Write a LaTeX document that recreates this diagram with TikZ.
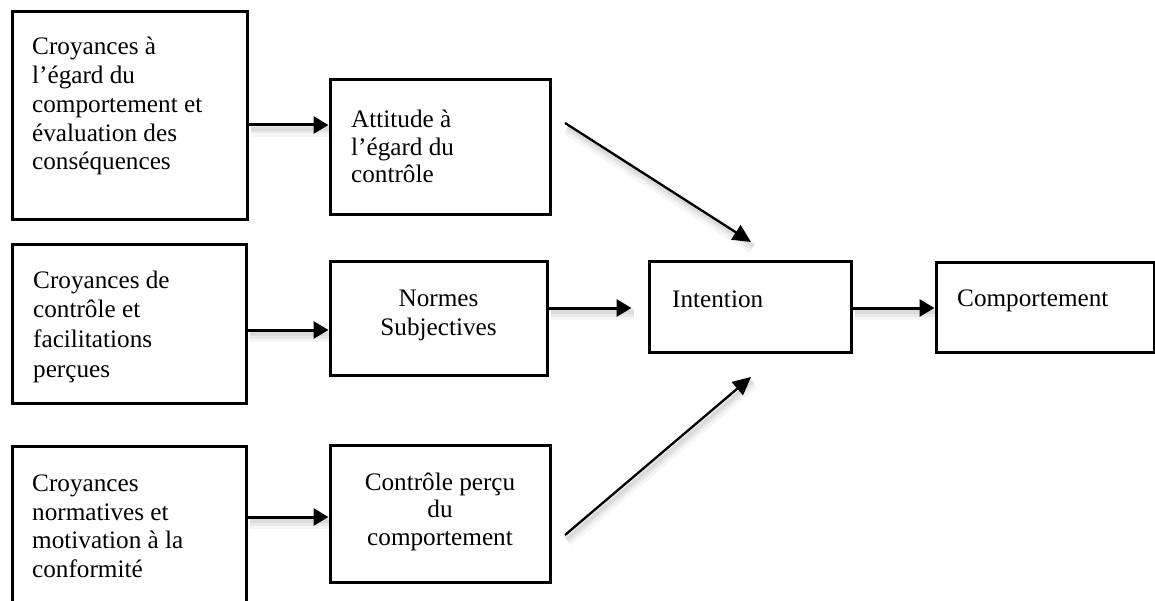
\documentclass[tikz,border=0pt]{standalone}
\usepackage{fontspec}
\setmainfont{Liberation Serif}
\usetikzlibrary{arrows.meta}

\tikzset{
  box/.style={draw=black, line width=3pt, fill=white, inner sep=0pt, rectangle},
  % multi-line labels are placed by the baseline of their last line
  txt/.style={inner sep=0pt, font={\fontsize{25.2}{28.8}\selectfont}, align=left, anchor=base west},
  ctxt/.style={inner sep=0pt, font={\fontsize{25.2}{28.2}\selectfont}, align=center, anchor=base},
  soft/.style={
    preaction={draw=black, opacity=0.035, line width=12pt, -, transform canvas={shift={(2pt,-6pt)}}},
    preaction={draw=black, opacity=0.05, line width=7pt, -, transform canvas={shift={(2pt,-5pt)}}},
    preaction={draw=black, opacity=0.06, line width=3.5pt, -, transform canvas={shift={(2pt,-4pt)}}}},
  harrow/.style={soft, draw=black, line width=3pt, -{Triangle[length=15pt, width=17pt]}},
  darrow/.style={soft, draw=black, line width=2.3pt, -{Triangle[length=18pt, width=17pt]}}
}

\begin{document}
\begin{tikzpicture}[x=1pt, y=-1pt]
\useasboundingbox (0,0) rectangle (1155,601);

% boxes
\node[box, minimum width=235pt, minimum height=208pt] (a1) at (129.5,116) {};
\node[box, minimum width=234pt, minimum height=158pt] (a2) at (129,324) {};
\node[box, minimum width=234pt, minimum height=194pt] (a3) at (129,543) {};
\node[box, minimum width=220pt, minimum height=135pt] (b1) at (440,147.5) {};
\node[box, minimum width=217pt, minimum height=113pt] (b2) at (438.5,318.5) {};
\node[box, minimum width=220pt, minimum height=137pt] (b3) at (440,513.5) {};
\node[box, minimum width=202pt, minimum height=90pt] (int) at (750,307) {};
\node[box, minimum width=218pt, minimum height=89pt] (comp) at (1045,307.5) {};

% labels
\node[txt] (ta1) at (32,170) {Croyances à\\l’égard du\\comportement et\\évaluation des\\conséquences};
\node[txt, font={\fontsize{25.2}{29.6}\selectfont}] (ta2) at (33,377) {Croyances de\\contrôle et\\facilitations\\perçues};
\node[txt, font={\fontsize{25.2}{28.4}\selectfont}] (ta3) at (32,577) {Croyances\\normatives et\\motivation à la\\conformité};
\node[txt, font={\fontsize{25.2}{27.8}\selectfont}] (tb1) at (351,183) {Attitude à\\l’égard du\\contrôle};
\node[ctxt, font={\fontsize{25.2}{29}\selectfont}] (tb2) at (438.5,335) {Normes\\Subjectives};
\node[ctxt, font={\fontsize{25.2}{27.5}\selectfont}] (tb3) at (440,545) {Contrôle perçu\\du\\comportement};
\node[txt] (tint) at (672,307) {Intention};
\node[txt] (tcomp) at (957,306) {Comportement};

% free ends of the slanted arrows
\coordinate (d1s) at (565,123);
\coordinate (d1e) at (751,242);
\coordinate (d2s) at (565,535);
\coordinate (d2e) at (751,377);

% connectors
\draw[harrow] ([yshift=-9pt]a1.east) -- ([yshift=22.5pt]b1.west);
\draw[harrow] ([yshift=-6pt]a2.east) -- ([yshift=-11.5pt]b2.west);
\draw[harrow] ([yshift=26pt]a3.east) -- ([yshift=-3.5pt]b3.west);
\draw[harrow, shorten >=16pt] ([yshift=10.5pt]b2.east) -- ([yshift=-1pt]int.west);
\draw[harrow] ([yshift=-1pt]int.east) -- ([yshift=-0.5pt]comp.west);
\draw[darrow] (d1s) -- (d1e);
\draw[darrow] (d2s) -- (d2e);
\end{tikzpicture}
\end{document}
